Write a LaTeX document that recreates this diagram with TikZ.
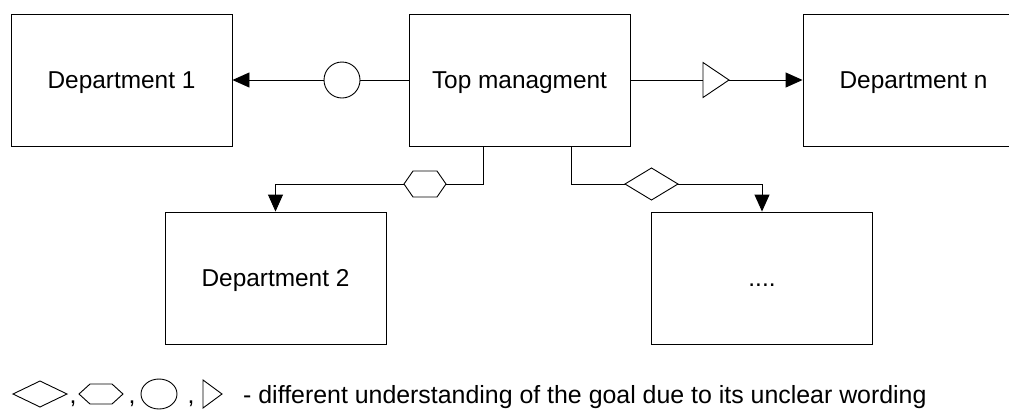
\documentclass[tikz,border=0pt]{standalone}
\usepackage{fontspec}
\setmainfont{Liberation Sans}
\usetikzlibrary{arrows.meta,calc}

\tikzset{
  unit/.style={rectangle, draw, line width=0.9pt, minimum width=221pt, minimum height=132pt,
               inner sep=0pt, text height=17.5pt, text depth=0pt,
               font=\fontsize{24.4}{28}\selectfont},
  link/.style={line width=0.9pt},
  flow/.style={link, -{Triangle[length=17pt,width=15pt]}},
  marker/.style={line width=0.9pt, fill=white},
  legendtext/.style={inner sep=0pt, font=\fontsize{24.9}{28}\selectfont}
}

\begin{document}
\begin{tikzpicture}[x=1pt, y=-1pt]
  \useasboundingbox (0,0) rectangle (1009,410);
  \clip (0,0) rectangle (1009,410);

  % departments and management
  \node[unit] (d1)   at (121.5,80)  {Department 1};
  \node[unit] (top)  at (519.5,80)  {Top managment};
  \node[unit] (dn)   at (913.5,80)  {Department n};
  \node[unit] (d2)   at (275.5,278) {Department 2};
  \node[unit] (more) at (762,278)   {....};

  % marker positions on the links
  \coordinate (circ) at (342,80);
  \coordinate (tri)  at (716,80);
  \coordinate (hex)  at (425,184);
  \coordinate (dia)  at (651.5,184);
  \coordinate (tl)   at ($(top.south west)+(75,0)$);
  \coordinate (tr)   at ($(top.south west)+(163,0)$);

  % top row links
  \draw[flow] (top.west) -- (d1.east);
  \draw[flow] (top.east) -- (dn.west);
  % lower links
  \draw[link] (tl) |- (hex);
  \draw[flow] (hex) -| (d2.north);
  \draw[link] (tr) |- (dia);
  \draw[flow] (dia) -| (more.north);

  % markers
  \draw[marker] (circ) circle[radius=18];
  \draw[marker] ($(tri)+(-13,-17.5)$) -- ++(26,17.5) -- ++(-26,17.5) -- cycle;
  \draw[marker] ($(hex)+(-21,0)$) -- ++(9,-13) -- ++(24,0) -- ++(9,13)
                -- ++(-9,13) -- ++(-24,0) -- cycle;
  \draw[marker] ($(dia)+(-26.5,0)$) -- ++(26.5,-16) -- ++(26.5,16) -- ++(-26.5,16) -- cycle;

  % legend
  \coordinate (lg) at (0,394);
  \draw[marker] ($(lg)+(13,0)$) -- ++(27,-13) -- ++(27,13) -- ++(-27,13) -- cycle;
  \node[legendtext, anchor=base] (c1) at (73,403) {,};
  \draw[marker] ($(lg)+(79,0)$) -- ++(11,-10) -- ++(22,0) -- ++(11,10)
                -- ++(-11,10) -- ++(-22,0) -- cycle;
  \node[legendtext, anchor=base] (c2) at (132,403) {,};
  \draw[marker] ($(lg)+(159,0)$) ellipse[x radius=18, y radius=15];
  \node[legendtext, anchor=base] (c3) at (191,403) {,};
  \draw[marker] ($(lg)+(203,-14)$) -- ++(19,14) -- ++(-19,14) -- cycle;
  \node[legendtext, anchor=base west] (note) at (243,403)
    {- different understanding of the goal due to its unclear wording};
\end{tikzpicture}
\end{document}
